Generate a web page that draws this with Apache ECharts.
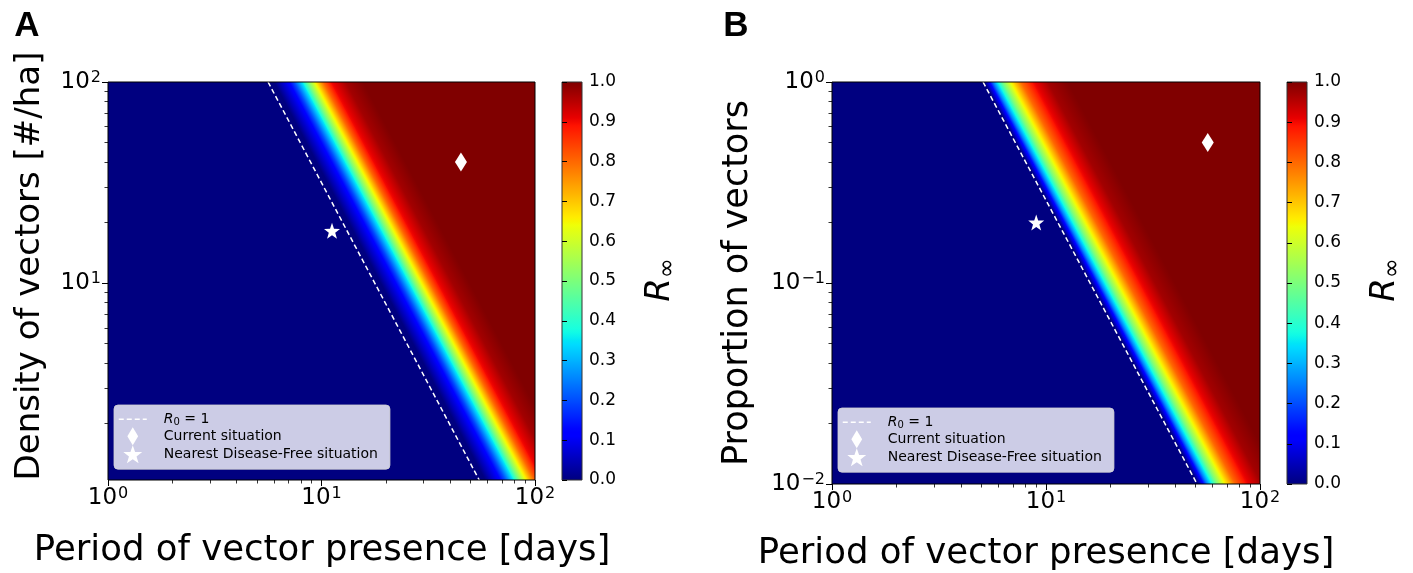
<!DOCTYPE html>
<html><head><meta charset="utf-8">
<script src="https://cdn.jsdelivr.net/npm/echarts@6/dist/echarts.min.js"></script>
<style>html,body{margin:0;padding:0;background:#fff}#c{width:1413px;height:573px}</style>
</head><body><div id="c"></div>
<script>
// ---------- Panel A ----------
const xRangeA = [1, 100];
const yRangeA = [1.05, 100];
const r0LineA = [[5.62, 100], [54.8, 1.05]];            // dashed R0 = 1 line (top and bottom ends)
const profileOffsetA = [0.028, 0.056, 0.094, 0.122, 0.159, 0.187, 0.220, 0.258, 0.295, 0.365, 0.445]; // decades right of R0=1 line
const profileValueA  = [0.0, 0.05, 0.11, 0.20, 0.35, 0.50, 0.65, 0.80, 0.90, 0.97, 1.0];
const currentA = [[45, 40]];
const nearestA = [[11.2, 18.2]];
// ---------- Panel B ----------
const xRangeB = [1, 100];
const yRangeB = [0.01, 1];
const r0LineB = [[5.08, 1], [50.8, 0.01]];
const profileOffsetB = [0.005, 0.028, 0.047, 0.065, 0.093, 0.131, 0.178, 0.234, 0.304, 0.397];
const profileValueB  = [0.0, 0.11, 0.25, 0.35, 0.50, 0.65, 0.80, 0.90, 0.97, 1.0];
const currentB = [[57, 0.5]];
const nearestB = [[9, 0.2]];
// ---------- ticks ----------
const xMajorTicks = [1, 10, 100];
const xMinorTicks = [2,3,4,5,6,7,8,9,20,30,40,50,60,70,80,90];
const yMajorTicksA = [10, 100];
const yMinorTicksA = [2,3,4,5,6,7,8,9,20,30,40,50,60,70,80,90];
const yMajorTicksB = [0.01, 0.1, 1];
const yMinorTicksB = [0.02,0.03,0.04,0.05,0.06,0.07,0.08,0.09,0.2,0.3,0.4,0.5,0.6,0.7,0.8,0.9];
const colorbarRange = [0, 1];
const legendNames = ['R0', 'Current situation', 'Nearest Disease-Free situation'];

const FONT = 'DejaVu Sans';
const diamondPath = 'path://M0,-10L6,0L0,10L-6,0Z';
const starPath = 'path://M0,-10L2.35,-3.24L9.51,-3.09L3.8,1.24L5.88,8.09L0,4L-5.88,8.09L-3.8,1.24L-9.51,-3.09L-2.35,-3.24Z';

// matplotlib "jet" colormap
const jetR = [[0,0],[0.35,0],[0.66,1],[0.89,1],[1,0.5]];
const jetG = [[0,0],[0.125,0],[0.375,1],[0.64,1],[0.91,0],[1,0]];
const jetB = [[0,0.5],[0.11,1],[0.34,1],[0.65,0],[1,0]];
function seg(s, v) {
  v = Math.max(0, Math.min(1, v));
  for (let i = 1; i < s.length; i++) {
    if (v <= s[i][0]) { const t = (v - s[i-1][0]) / (s[i][0] - s[i-1][0]); return s[i-1][1] + t * (s[i][1] - s[i-1][1]); }
  }
  return s[s.length-1][1];
}
function jet(v) {
  return 'rgb(' + Math.round(255*seg(jetR,v)) + ',' + Math.round(255*seg(jetG,v)) + ',' + Math.round(255*seg(jetB,v)) + ')';
}

function expLabel(v) {
  const e = Math.round(Math.log10(v));
  return '10{s|' + (e < 0 ? '\u2212' + (-e) : e) + '}';
}
const supRich = { s: { fontSize: 16, fontFamily: FONT, color: '#000', verticalAlign: 'top', padding: [0, 0, 9, 1] } };

function mainAxes(grid, range, major, minor, isX) {
  return [
    { type: 'log', gridIndex: grid, min: range[0], max: range[1], position: isX ? 'bottom' : 'left', z: 10,
      axisLine: { show: false }, splitLine: { show: false },
      axisTick: { show: true, customValues: major, length: 6, lineStyle: { color: '#000', width: 1 } },
      axisLabel: { customValues: major, formatter: expLabel, margin: isX ? 6 : 7, fontSize: 23, fontFamily: FONT, color: '#000', rich: supRich } },
    { type: 'log', gridIndex: grid, min: range[0], max: range[1], position: isX ? 'bottom' : 'left', z: 10,
      axisLine: { show: false }, splitLine: { show: false }, axisLabel: { show: false },
      axisTick: { show: true, customValues: minor, length: 3.5, lineStyle: { color: '#000', width: 0.8 } } }
  ];
}
function cbarX(grid) { return { type: 'value', gridIndex: grid, min: 0, max: 1, show: false }; }
function cbarY(grid) {
  return { type: 'value', gridIndex: grid, min: colorbarRange[0], max: colorbarRange[1], interval: 0.1, position: 'right', z: 10,
    axisLine: { show: false }, splitLine: { show: false },
    axisTick: { show: true, length: 5, lineStyle: { color: '#000' } },
    axisLabel: { formatter: v => v.toFixed(1), fontSize: 17, fontFamily: FONT, color: '#000', margin: 7 } };
}

function fieldSeries(xi, yi, line, offs, vals) {
  return {
    type: 'custom', xAxisIndex: xi, yAxisIndex: yi, silent: true, z: 1, clip: true,
    data: [[line[0][0], line[0][1]]],
    renderItem: function (params, api) {
      const cs = params.coordSys;
      const top = line[0], bot = line[1];
      const lo = offs[0] - 3, hi = offs[offs.length-1] + 3;
      const P = (pt, o) => api.coord([pt[0] * Math.pow(10, o), pt[1]]);
      const a = P(top, lo), b = P(top, hi), c = P(bot, hi), d = P(bot, lo);
      let dx = d[0]-a[0], dy = d[1]-a[1]; const L = Math.hypot(dx, dy); dx /= L; dy /= L;
      const wx = b[0]-a[0], wy = b[1]-a[1]; const dot = wx*dx + wy*dy;
      const ex = a[0] + wx - dot*dx, ey = a[1] + wy - dot*dy;
      const span = hi - lo;
      const stops = [{ offset: 0, color: jet(vals[0]) }];
      for (let i = 0; i < offs.length; i++) {
        if (i > 0) {
          for (let k = 1; k < 8; k++) {
            const t = k / 8;
            const o = offs[i-1] + (offs[i]-offs[i-1]) * t;
            const v = vals[i-1] + (vals[i]-vals[i-1]) * t;
            stops.push({ offset: (o - lo) / span, color: jet(v) });
          }
        }
        stops.push({ offset: (offs[i] - lo) / span, color: jet(vals[i]) });
      }
      stops.push({ offset: 1, color: jet(vals[vals.length-1]) });
      return {
        type: 'polygon', shape: { points: [a, b, c, d] },
        style: { fill: new echarts.graphic.LinearGradient(a[0], a[1], ex, ey, stops, true) },
        clipPath: { type: 'rect', shape: { x: cs.x, y: cs.y, width: cs.width, height: cs.height } }
      };
    }
  };
}
function cbarSeries(xi, yi) {
  return {
    type: 'custom', xAxisIndex: xi, yAxisIndex: yi, silent: true, z: 1,
    data: [[0, colorbarRange[0], 1, colorbarRange[1]]],
    renderItem: function (params, api) {
      const p0 = api.coord([api.value(0), api.value(1)]);
      const p1 = api.coord([api.value(2), api.value(3)]);
      const stops = [];
      for (let i = 0; i <= 100; i++) stops.push({ offset: i / 100, color: jet(i / 100) });
      return { type: 'rect', shape: { x: p0[0], y: p1[1], width: p1[0]-p0[0], height: p0[1]-p1[1] },
        style: { fill: new echarts.graphic.LinearGradient(0, 1, 0, 0, stops) } };
    }
  };
}
function markerSeries(xi, yi, r0, cur, near) {
  return [
    { name: 'R0', type: 'line', xAxisIndex: xi, yAxisIndex: yi, data: r0, symbol: 'none', z: 4, silent: true,
      itemStyle: { color: '#fff' }, lineStyle: { color: '#fff', width: 1.5, type: [5, 3] } },
    { name: 'Current situation', type: 'scatter', xAxisIndex: xi, yAxisIndex: yi, data: cur, symbol: diamondPath,
      symbolSize: [12, 19], itemStyle: { color: '#fff', opacity: 1 }, z: 5, silent: true },
    { name: 'Nearest Disease-Free situation', type: 'scatter', xAxisIndex: xi, yAxisIndex: yi, data: near, symbol: starPath,
      symbolSize: 16, itemStyle: { color: '#fff', opacity: 1 }, z: 5, silent: true }
  ];
}
function legend(left, top) {
  return {
    show: true, orient: 'vertical', left: left, top: top, itemWidth: 28, itemHeight: 18, itemGap: 0,
    padding: [7, 12, 6, 4], selectedMode: false,
    backgroundColor: 'rgba(255,255,255,0.8)', borderColor: 'rgba(210,210,210,0.8)', borderWidth: 1, borderRadius: 4,
    data: [
      { name: legendNames[0], itemStyle: { color: 'rgba(0,0,0,0)', borderColor: 'rgba(0,0,0,0)', borderWidth: 0, opacity: 0 },
        lineStyle: { color: '#fff', width: 1.5, type: [5, 3], opacity: 1 } },
      { name: legendNames[1], icon: diamondPath, itemStyle: { color: '#fff', opacity: 1 } },
      { name: legendNames[2], icon: starPath, itemStyle: { color: '#fff', opacity: 1 } }
    ],
    formatter: n => n === 'R0' ? '{i|R}{b|0}{t| = 1}' : n,
    textStyle: { fontSize: 14, fontFamily: FONT, color: '#000', padding: [0, 0, 0, 12],
      rich: { i: { fontSize: 14, fontStyle: 'italic', fontFamily: FONT, color: '#000' },
              b: { fontSize: 10, fontFamily: FONT, color: '#000', verticalAlign: 'bottom', padding: [6, 0, 0, 0] },
              t: { fontSize: 14, fontFamily: FONT, color: '#000' } } }
  };
}
function txt(x, y, text, size, rot, weight, family) {
  return { type: 'text', x: x, y: y, rotation: rot || 0,
    style: { text: text, fontSize: size, fontWeight: weight || 'normal', fontFamily: family || FONT, fill: '#000', align: 'center', verticalAlign: 'middle' } };
}
const rinf = { r: { fontSize: 34, fontStyle: 'italic', fontFamily: FONT, color: '#000' },
               s: { fontSize: 24, fontFamily: FONT, color: '#000', verticalAlign: 'bottom', padding: [16, 0, 0, 0] } };

const chart = echarts.init(document.getElementById('c'), null, { renderer: 'canvas' });
const axA = mainAxes(0, xRangeA, xMajorTicks, xMinorTicks, true);
const ayA = mainAxes(0, yRangeA, yMajorTicksA, yMinorTicksA, false);
const axB = mainAxes(2, xRangeB, xMajorTicks, xMinorTicks, true);
const ayB = mainAxes(2, yRangeB, yMajorTicksB, yMinorTicksB, false);
chart.setOption({
  animation: false,
  backgroundColor: '#fff',
  grid: [
    { left: 108, top: 82, width: 427, height: 398, show: true, z: 6, borderColor: '#000', borderWidth: 1, backgroundColor: 'transparent' },
    { left: 562, top: 82, width: 20, height: 398, show: true, z: 6, borderColor: '#333', borderWidth: 1, backgroundColor: 'transparent' },
    { left: 832, top: 82, width: 428, height: 402, show: true, z: 6, borderColor: '#000', borderWidth: 1, backgroundColor: 'transparent' },
    { left: 1287, top: 82, width: 20, height: 402, show: true, z: 6, borderColor: '#333', borderWidth: 1, backgroundColor: 'transparent' }
  ],
  // x axes: 0 A main, 1 A minor, 2 A cbar, 3 B main, 4 B minor, 5 B cbar
  xAxis: [axA[0], axA[1], cbarX(1), axB[0], axB[1], cbarX(3)],
  yAxis: [ayA[0], ayA[1], cbarY(1), ayB[0], ayB[1], cbarY(3)],
  legend: [legend(114, 405), legend(838, 408)],
  series: [
    fieldSeries(0, 0, r0LineA, profileOffsetA, profileValueA),
    cbarSeries(2, 2),
    ...markerSeries(0, 0, r0LineA, currentA, nearestA),
    fieldSeries(3, 3, r0LineB, profileOffsetB, profileValueB),
    cbarSeries(5, 5),
    ...markerSeries(3, 3, r0LineB, currentB, nearestB)
  ],
  graphic: [
    txt(27, 26, 'A', 35, 0, 'bold', 'Liberation Sans'),
    txt(736, 26, 'B', 35, 0, 'bold', 'Liberation Sans'),
    txt(30, 266, 'Density of vectors [#/ha]', 34, Math.PI / 2),
    txt(322, 551, 'Period of vector presence [days]', 35.5, 0),
    txt(738, 283, 'Proportion of vectors', 35, Math.PI / 2),
    txt(1046, 554, 'Period of vector presence [days]', 35.5, 0),
    { type: 'text', x: 660, y: 280, rotation: Math.PI / 2, style: { text: '{r|R}{s|\u221e}', rich: rinf, align: 'center', verticalAlign: 'middle' } },
    { type: 'text', x: 1385, y: 280, rotation: Math.PI / 2, style: { text: '{r|R}{s|\u221e}', rich: rinf, align: 'center', verticalAlign: 'middle' } }
  ]
});
</script>
</body></html>
